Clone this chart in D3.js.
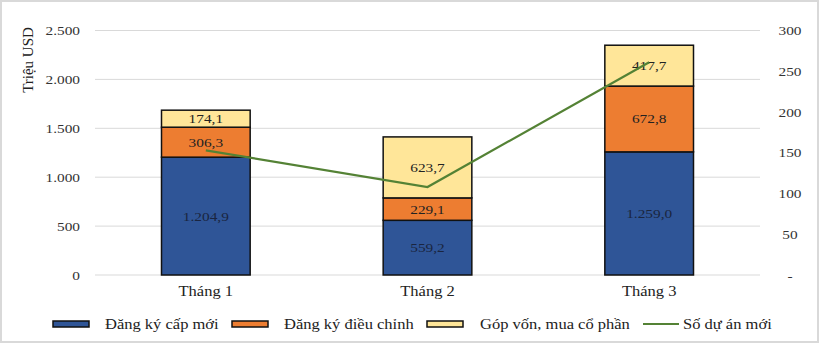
<!DOCTYPE html>
<html>
<head>
<meta charset="utf-8">
<script src="https://cdn.jsdelivr.net/npm/d3@7/dist/d3.min.js"></script>
<style>
  html, body { margin: 0; padding: 0; background: #fff; }
  svg { display: block; }
  svg text { font-family: "Liberation Serif", "Times New Roman", serif; }
</style>
</head>
<body>
<svg id="chart" width="820" height="345"></svg>
<script>
// Monthly FDI figures (million USD) and number of new projects
const months = ["Tháng 1", "Tháng 2", "Tháng 3"];
const newReg = [1204.9, 559.2, 1259.0];
const adjusted = [306.3, 229.1, 672.8];
const capital = [174.1, 623.7, 417.7];
const newProjects = [153, 108, 261];
const leftTicks = [0, 500, 1000, 1500, 2000, 2500];
const rightTicks = [0, 50, 100, 150, 200, 250, 300];

const seriesNames = ["Đăng ký cấp mới", "Đăng ký điều chỉnh", "Góp vốn, mua cổ phần"];
const seriesColors = ["#2F5597", "#ED7D31", "#FFE699"];
const lineName = "Số dự án mới";
const lineColor = "#548235";

const svg = d3.select("#chart");
const W = 820, H = 345;
const plotL = 95, plotR = 760, plotT = 30.5, plotB = 275;
const SX = 1.18; // horizontal widening of the serif type

// widen text horizontally while keeping its anchor point in place
function widen(sel) {
  sel.each(function () {
    const t = d3.select(this);
    const x0 = +(t.attr("x") || 0);
    const y0 = +(t.attr("y") || 0);
    t.attr("x", x0 / SX).attr("y", y0).attr("transform", `scale(${SX},1)`);
  });
}

// outer frame
svg.append("rect").attr("x", 1).attr("y", 1).attr("width", W - 3).attr("height", H - 4)
  .attr("fill", "#fff").attr("stroke", "#d9d9d9").attr("stroke-width", 2);

const x = d3.scaleBand().domain(months).range([plotL, plotR]).paddingInner(0.6).paddingOuter(0.3);
const y = d3.scaleLinear().domain([0, 2500]).range([plotB, plotT]);
const y2 = d3.scaleLinear().domain([0, 300]).range([plotB, plotT]);

const fmt = d3.formatLocale({ decimal: ",", thousands: ".", grouping: [3], currency: ["", ""] });
const f0 = fmt.format(",.0f");
const f1 = fmt.format(",.1f");

// gridlines
svg.append("g").selectAll("line").data(leftTicks).join("line")
  .attr("x1", plotL).attr("x2", plotR)
  .attr("y1", d => y(d)).attr("y2", d => y(d))
  .attr("stroke", "#d9d9d9").attr("stroke-width", 1);

// left axis
const ax = svg.append("g").attr("transform", `translate(${plotL - 12},0)`)
  .call(d3.axisLeft(y).tickValues(leftTicks).tickFormat(f0).tickSize(0));
ax.attr("font-family", null);
ax.select(".domain").remove();
ax.selectAll("text").attr("font-size", 13).attr("fill", "#333").call(widen);

// right axis
const ax2 = svg.append("g").attr("transform", `translate(${plotR + 30},0)`)
  .call(d3.axisRight(y2).tickValues(rightTicks).tickFormat(d => d === 0 ? "-" : d).tickSize(0));
ax2.attr("font-family", null);
ax2.select(".domain").remove();
ax2.selectAll("text").attr("x", 0).attr("font-size", 13).attr("fill", "#333")
  .attr("text-anchor", "middle").call(widen);

// axis title
svg.append("text").attr("transform", `translate(33,60) rotate(-90)`)
  .attr("text-anchor", "middle").attr("font-size", 15).attr("fill", "#222").text("Triệu USD");

// stacked bars
const rows = months.map((m, i) => ({ month: m, s0: newReg[i], s1: adjusted[i], s2: capital[i] }));
const stack = d3.stack().keys(["s0", "s1", "s2"])(rows);
const labelColors = ["#1a2540", "#222", "#222"];
stack.forEach((layer, li) => {
  const g = svg.append("g");
  g.selectAll("rect").data(layer).join("rect")
    .attr("x", d => x(d.data.month))
    .attr("width", x.bandwidth())
    .attr("y", d => y(d[1]))
    .attr("height", d => y(d[0]) - y(d[1]))
    .attr("fill", seriesColors[li])
    .attr("stroke", "#111").attr("stroke-width", 1.5);
  g.selectAll("text").data(layer).join("text")
    .attr("x", d => x(d.data.month) + x.bandwidth() / 2)
    .attr("y", d => (y(d[0]) + y(d[1])) / 2 + 4.5)
    .attr("text-anchor", "middle").attr("font-size", 13)
    .attr("fill", labelColors[li])
    .text(d => f1(d[1] - d[0]))
    .call(widen);
});

// new project line
const line = d3.line()
  .x((d, i) => x(months[i]) + x.bandwidth() / 2)
  .y(d => y2(d));
svg.append("path").datum(newProjects).attr("d", line)
  .attr("fill", "none").attr("stroke", lineColor).attr("stroke-width", 2.2);

// category labels
svg.append("g").selectAll("text").data(months).join("text")
  .attr("x", d => x(d) + x.bandwidth() / 2).attr("y", 296)
  .attr("text-anchor", "middle").attr("font-size", 14).attr("fill", "#222").text(d => d)
  .call(widen);

// legend
const legY = 324;
const legItems = [
  { x: 53, tx: 105, name: seriesNames[0], color: seriesColors[0] },
  { x: 232, tx: 284, name: seriesNames[1], color: seriesColors[1] },
  { x: 427, tx: 480, name: seriesNames[2], color: seriesColors[2] }
];
const leg = svg.append("g");
legItems.forEach(it => {
  leg.append("rect").attr("x", it.x).attr("y", legY - 3).attr("width", 36).attr("height", 6)
    .attr("fill", it.color).attr("stroke", "#111").attr("stroke-width", 1.5);
  leg.append("text").attr("x", it.tx).attr("y", legY + 5).attr("font-size", 14).attr("fill", "#222")
    .text(it.name).call(widen);
});
leg.append("line").attr("x1", 643).attr("x2", 679).attr("y1", legY).attr("y2", legY)
  .attr("stroke", lineColor).attr("stroke-width", 2.2);
leg.append("text").attr("x", 683).attr("y", legY + 5).attr("font-size", 14).attr("fill", "#222")
  .text(lineName).call(widen);
</script>
</body>
</html>
